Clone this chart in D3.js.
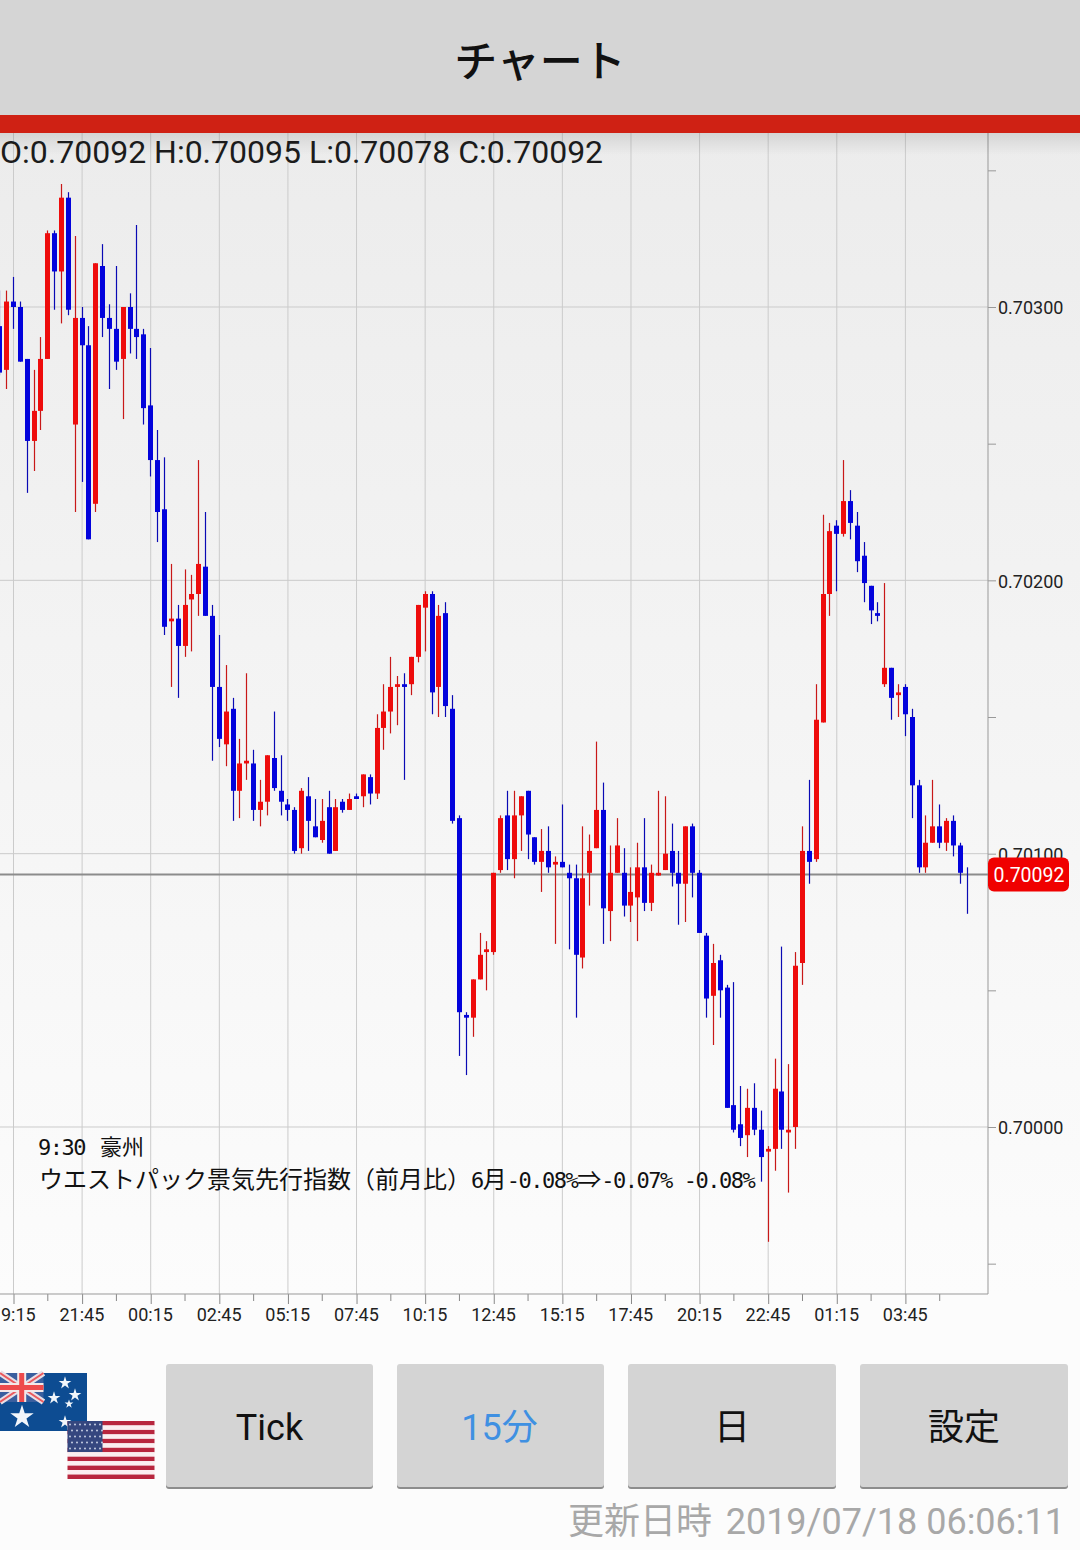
<!DOCTYPE html>
<html>
<head>
<meta charset="utf-8">
<title>チャート</title>
<script src="https://d3js.org/d3.v7.min.js"></script>
<style>
  html, body { margin: 0; padding: 0; background: #fcfcfc; }
  svg { display: block; }
  text { font-family: Roboto, "Noto Sans CJK JP", sans-serif; }
  .jp { font-family: "Noto Sans CJK JP", sans-serif; }
</style>
</head>
<body>
<div id="chart"></div>
<script>
// 15 minute candles, AUD/USD. bar 0 is the 19:15 bar, the first two bars come before it
const firstBar = -2
const opens = [
  0.70293, 0.70277, 0.70302, 0.70300, 0.70281, 0.70251, 0.70262, 0.70281, 0.70327, 0.70313, 0.70340, 0.70257,
  0.70296, 0.70286, 0.70228, 0.70315, 0.70296, 0.70292, 0.70281, 0.70300, 0.70292, 0.70290, 0.70264, 0.70244,
  0.70226, 0.70185, 0.70186, 0.70176, 0.70193, 0.70195, 0.70205, 0.70187, 0.70161, 0.70140, 0.70153, 0.70123,
  0.70133, 0.70133, 0.70116, 0.70119, 0.70135, 0.70123, 0.70118, 0.70116, 0.70102, 0.70121, 0.70110, 0.70105,
  0.70117, 0.70101, 0.70119, 0.70116, 0.70121, 0.70121, 0.70128, 0.70122, 0.70146, 0.70152, 0.70161, 0.70162,
  0.70162, 0.70172, 0.70190, 0.70195, 0.70161, 0.70188, 0.70153, 0.70113, 0.70041, 0.70040, 0.70054, 0.70064,
  0.70064, 0.70094, 0.70114, 0.70098, 0.70114, 0.70123, 0.70106, 0.70097, 0.70101, 0.70096, 0.70097, 0.70093,
  0.70091, 0.70062, 0.70093, 0.70102, 0.70116, 0.70079, 0.70093, 0.70093, 0.70081, 0.70084, 0.70095, 0.70082,
  0.70092, 0.70094, 0.70101, 0.70093, 0.70089, 0.70110, 0.70093, 0.70070, 0.70048, 0.70061, 0.70051, 0.70008,
  0.70001, 0.69997, 0.70007, 0.69999, 0.69991, 0.69992, 0.70013, 0.69998, 0.70000, 0.70060, 0.70101, 0.70098,
  0.70148, 0.70195, 0.70220, 0.70217, 0.70229, 0.70220, 0.70209, 0.70198, 0.70188, 0.70162, 0.70168, 0.70158,
  0.70161, 0.70150, 0.70125, 0.70095, 0.70104, 0.70110, 0.70104, 0.70112, 0.70103, 0.70092
]
const highs = [
  0.70306, 0.70306, 0.70311, 0.70302, 0.70281, 0.70277, 0.70289, 0.70328, 0.70328, 0.70345, 0.70342, 0.70326,
  0.70300, 0.70293, 0.70316, 0.70323, 0.70301, 0.70315, 0.70300, 0.70305, 0.70330, 0.70292, 0.70285, 0.70255,
  0.70245, 0.70206, 0.70191, 0.70204, 0.70202, 0.70244, 0.70225, 0.70191, 0.70180, 0.70169, 0.70157, 0.70142,
  0.70166, 0.70138, 0.70127, 0.70136, 0.70152, 0.70136, 0.70120, 0.70117, 0.70124, 0.70128, 0.70120, 0.70120,
  0.70123, 0.70120, 0.70120, 0.70122, 0.70122, 0.70129, 0.70129, 0.70151, 0.70162, 0.70172, 0.70165, 0.70166,
  0.70172, 0.70191, 0.70196, 0.70196, 0.70191, 0.70192, 0.70158, 0.70114, 0.70042, 0.70054, 0.70071, 0.70068,
  0.70093, 0.70114, 0.70123, 0.70123, 0.70121, 0.70123, 0.70106, 0.70109, 0.70110, 0.70099, 0.70118, 0.70096,
  0.70096, 0.70110, 0.70107, 0.70141, 0.70126, 0.70103, 0.70113, 0.70102, 0.70095, 0.70104, 0.70113, 0.70096,
  0.70123, 0.70121, 0.70111, 0.70101, 0.70110, 0.70111, 0.70094, 0.70071, 0.70067, 0.70063, 0.70052, 0.70053,
  0.70015, 0.70014, 0.70016, 0.70006, 0.69993, 0.70025, 0.70066, 0.70023, 0.70064, 0.70110, 0.70127, 0.70162,
  0.70224, 0.70221, 0.70222, 0.70244, 0.70233, 0.70225, 0.70214, 0.70198, 0.70192, 0.70199, 0.70168, 0.70162,
  0.70162, 0.70153, 0.70127, 0.70114, 0.70127, 0.70118, 0.70113, 0.70114, 0.70104, 0.70095
]
const lows = [
  0.70275, 0.70270, 0.70292, 0.70280, 0.70232, 0.70240, 0.70255, 0.70281, 0.70299, 0.70294, 0.70297, 0.70225,
  0.70236, 0.70215, 0.70225, 0.70289, 0.70270, 0.70277, 0.70259, 0.70283, 0.70281, 0.70257, 0.70238, 0.70214,
  0.70180, 0.70161, 0.70157, 0.70172, 0.70174, 0.70187, 0.70187, 0.70134, 0.70139, 0.70132, 0.70112, 0.70113,
  0.70127, 0.70112, 0.70110, 0.70114, 0.70123, 0.70114, 0.70112, 0.70100, 0.70100, 0.70101, 0.70106, 0.70104,
  0.70100, 0.70101, 0.70115, 0.70116, 0.70120, 0.70117, 0.70118, 0.70120, 0.70138, 0.70144, 0.70147, 0.70127,
  0.70158, 0.70170, 0.70174, 0.70151, 0.70150, 0.70150, 0.70111, 0.70026, 0.70019, 0.70033, 0.70054, 0.70050,
  0.70063, 0.70093, 0.70094, 0.70091, 0.70101, 0.70098, 0.70096, 0.70086, 0.70093, 0.70067, 0.70095, 0.70065,
  0.70040, 0.70058, 0.70081, 0.70102, 0.70067, 0.70068, 0.70093, 0.70077, 0.70075, 0.70068, 0.70079, 0.70079,
  0.70092, 0.70094, 0.70088, 0.70074, 0.70075, 0.70084, 0.70071, 0.70040, 0.70030, 0.70040, 0.70007, 0.69998,
  0.69993, 0.69989, 0.69997, 0.69980, 0.69958, 0.69984, 0.69992, 0.69976, 0.69992, 0.70052, 0.70089, 0.70097,
  0.70148, 0.70187, 0.70196, 0.70216, 0.70215, 0.70203, 0.70192, 0.70184, 0.70185, 0.70161, 0.70149, 0.70150,
  0.70143, 0.70113, 0.70093, 0.70093, 0.70104, 0.70102, 0.70101, 0.70099, 0.70089, 0.70078
]
const closes = [
  0.70276, 0.70302, 0.70300, 0.70280, 0.70251, 0.70262, 0.70281, 0.70327, 0.70313, 0.70340, 0.70299, 0.70296,
  0.70286, 0.70215, 0.70316, 0.70296, 0.70292, 0.70280, 0.70300, 0.70292, 0.70289, 0.70263, 0.70244, 0.70225,
  0.70183, 0.70186, 0.70176, 0.70191, 0.70195, 0.70206, 0.70187, 0.70161, 0.70142, 0.70152, 0.70123, 0.70133,
  0.70134, 0.70116, 0.70119, 0.70136, 0.70124, 0.70119, 0.70116, 0.70101, 0.70123, 0.70112, 0.70106, 0.70112,
  0.70100, 0.70117, 0.70116, 0.70120, 0.70120, 0.70129, 0.70122, 0.70146, 0.70152, 0.70161, 0.70162, 0.70161,
  0.70172, 0.70191, 0.70195, 0.70159, 0.70187, 0.70154, 0.70112, 0.70042, 0.70040, 0.70054, 0.70063, 0.70065,
  0.70093, 0.70113, 0.70098, 0.70114, 0.70121, 0.70107, 0.70097, 0.70101, 0.70095, 0.70097, 0.70095, 0.70091,
  0.70063, 0.70091, 0.70101, 0.70116, 0.70080, 0.70093, 0.70103, 0.70081, 0.70086, 0.70095, 0.70082, 0.70093,
  0.70093, 0.70100, 0.70093, 0.70089, 0.70110, 0.70093, 0.70071, 0.70047, 0.70060, 0.70050, 0.70007, 0.69999,
  0.69996, 0.70007, 0.69999, 0.69989, 0.69992, 0.70014, 0.69999, 0.69999, 0.70059, 0.70101, 0.70097, 0.70149,
  0.70195, 0.70218, 0.70217, 0.70229, 0.70221, 0.70207, 0.70199, 0.70189, 0.70187, 0.70168, 0.70157, 0.70159,
  0.70151, 0.70125, 0.70095, 0.70104, 0.70110, 0.70104, 0.70112, 0.70103, 0.70093, 0.70092
]
const lastPrice = 0.70092

// bottom axis, one label every 10 bars
const timeTicks = [0, 10, 20, 30, 40, 50, 60, 70, 80, 90, 100, 110, 120, 130]
const timeLabels = ['19:15', '21:45', '00:15', '02:45', '05:15', '07:45', '10:15', '12:45', '15:15', '17:45', '20:15', '22:45', '01:15', '03:45']
const minorTimeTicks = [5, 15, 25, 35, 45, 55, 65, 75, 85, 95, 105, 115, 125, 135]
const priceTicks = [0.6995, 0.7000, 0.7005, 0.7010, 0.7015, 0.7020, 0.7025, 0.7030, 0.7035]
const priceLabels = [0.7000, 0.7010, 0.7020, 0.7030]

const buttonLabels = ['Tick', '15分', '日', '設定']
const buttonLefts = [166, 397, 628, 860]
const buttonWidths = [207, 207, 208, 208]

const width = 1080
const height = 1550
const plotTop = 133
const plotBottom = 1294
const plotRight = 988
const barW = 5

const x = d3.scaleLinear().domain([0, 130]).range([13.5, 905.4])
const y = d3.scaleLinear().domain([0.7000, 0.7030]).range([1127, 307])

const svg = d3.select('#chart').append('svg')
  .attr('width', width)
  .attr('height', height)

const defs = svg.append('defs')
const bgGrad = defs.append('linearGradient')
  .attr('id', 'bgGrad').attr('x1', 0).attr('x2', 0).attr('y1', 0).attr('y2', 1)
bgGrad.append('stop').attr('offset', '0%').attr('stop-color', '#ececec')
bgGrad.append('stop').attr('offset', '100%').attr('stop-color', '#fcfcfc')
const shadowGrad = defs.append('linearGradient')
  .attr('id', 'shadowGrad').attr('x1', 0).attr('x2', 0).attr('y1', 0).attr('y2', 1)
shadowGrad.append('stop').attr('offset', '0%').attr('stop-color', '#000').attr('stop-opacity', 0.1)
shadowGrad.append('stop').attr('offset', '100%').attr('stop-color', '#000').attr('stop-opacity', 0)

svg.append('rect')
  .attr('x', 0).attr('y', plotTop)
  .attr('width', width).attr('height', plotBottom - plotTop)
  .attr('fill', 'url(#bgGrad)')

// Grid
svg.append('g').selectAll('line')
  .data(timeTicks)
  .enter().append('line')
  .attr('x1', d => x(d)).attr('x2', d => x(d))
  .attr('y1', plotTop).attr('y2', plotBottom)
  .attr('stroke', '#cbcbcb')
  .attr('stroke-width', 1)

svg.append('g').selectAll('line')
  .data(priceLabels)
  .enter().append('line')
  .attr('x1', 0).attr('x2', plotRight)
  .attr('y1', d => y(d)).attr('y2', d => y(d))
  .attr('stroke', '#cbcbcb')
  .attr('stroke-width', 1)

// Axes
const xAxis = d3.axisBottom(x)
  .tickValues(timeTicks)
  .tickSize(10)
  .tickPadding(4)
  .tickFormat((d, i) => timeLabels[i])
const xAxisG = svg.append('g')
  .attr('transform', 'translate(0,' + plotBottom + ')')
  .call(xAxis)
xAxisG.select('.domain').remove()
xAxisG.selectAll('.tick line').attr('stroke', '#888')
xAxisG.selectAll('.tick text')
  .attr('fill', '#222')
  .attr('dx', -0.7)
  .style('font-size', '18px')
  .style('font-family', 'Roboto')

svg.append('g').selectAll('line')
  .data(minorTimeTicks)
  .enter().append('line')
  .attr('x1', d => x(d)).attr('x2', d => x(d))
  .attr('y1', plotBottom).attr('y2', plotBottom + 7)
  .attr('stroke', '#888')

svg.append('line')
  .attr('x1', 0).attr('x2', plotRight)
  .attr('y1', plotBottom).attr('y2', plotBottom)
  .attr('stroke', '#999')

const yAxis = d3.axisRight(y)
  .tickValues(priceTicks)
  .tickSize(8)
  .tickPadding(2)
  .tickFormat(d => priceLabels.includes(d) ? d3.format('.5f')(d) : '')
const yAxisG = svg.append('g')
  .attr('transform', 'translate(' + plotRight + ',0)')
  .call(yAxis)
yAxisG.select('.domain').remove()
yAxisG.selectAll('.tick line').attr('stroke', '#999')
yAxisG.selectAll('.tick text')
  .attr('fill', '#222')
  .attr('dy', '0.38em')
  .style('font-size', '18px')
  .style('font-family', 'Roboto')

svg.append('line')
  .attr('x1', plotRight).attr('x2', plotRight)
  .attr('y1', plotTop).attr('y2', plotBottom)
  .attr('stroke', '#999')

// Last price line, under the candles' last wick
svg.append('line')
  .attr('x1', 0).attr('x2', plotRight)
  .attr('y1', y(lastPrice) - 1).attr('y2', y(lastPrice) - 1)
  .attr('stroke', '#8c8c8c')
  .attr('stroke-width', 2)

// Candles
const candleData = opens.map((o, i) => ({
  bar: firstBar + i, o: o, h: highs[i], l: lows[i], c: closes[i]
}))
const candleColor = d => d.c > d.o ? '#ee0c0c' : '#0303dc'
const candle = svg.append('g').selectAll('g')
  .data(candleData)
  .enter().append('g')

candle.append('line')
  .attr('x1', d => Math.floor(x(d.bar)) + 0.5)
  .attr('x2', d => Math.floor(x(d.bar)) + 0.5)
  .attr('y1', d => y(d.h))
  .attr('y2', d => y(d.l))
  .attr('stroke', d => d.c > d.o ? '#c81818' : '#0a0ab4')
  .attr('stroke-width', 1.2)

candle.filter(d => d.c !== d.o).append('rect')
  .attr('x', d => Math.floor(x(d.bar)) + 0.5 - barW / 2)
  .attr('y', d => y(Math.max(d.o, d.c)))
  .attr('width', barW)
  .attr('height', d => Math.abs(y(d.o) - y(d.c)))
  .attr('fill', candleColor)

// Last price tag
svg.append('rect')
  .attr('x', plotRight).attr('y', y(lastPrice) - 18)
  .attr('width', 81).attr('height', 34)
  .attr('rx', 6)
  .attr('fill', '#f00000')
svg.append('text')
  .attr('x', plotRight + 41).attr('y', y(lastPrice) + 6)
  .attr('text-anchor', 'middle')
  .attr('fill', '#fff')
  .style('font-size', '19.5px')
  .text(d3.format('.5f')(lastPrice))

// Economic calendar note, half width runs in a tightened mono face
const monoRun = (sel, txt) => sel.append('tspan')
  .style('font-family', '"DejaVu Sans Mono"')
  .style('font-size', '22px')
  .style('letter-spacing', '-1.5px')
  .text(txt)
const jpRun = (sel, txt, size) => sel.append('tspan')
  .style('font-family', '"Noto Sans CJK JP"')
  .style('font-size', size + 'px')
  .text(txt)

const note = svg.append('g').attr('fill', '#111')
const noteTop = note.append('text').attr('x', 38).attr('y', 1155)
monoRun(noteTop, '9:30')
jpRun(noteTop, '豪州', 22).attr('dx', 15)

const noteMain = note.append('text').attr('x', 39).attr('y', 1188)
jpRun(noteMain, 'ウエストパック景気先行指数（前月比）', 24)
monoRun(noteMain, '6')
jpRun(noteMain, '月', 24)
monoRun(noteMain, '-0.08%')
jpRun(noteMain, '⇒', 24)
monoRun(noteMain, '-0.07%')
monoRun(noteMain, '-0.08%').attr('dx', 12)

// OHLC read out
svg.append('text')
  .attr('x', 0).attr('y', 163)
  .attr('fill', '#1c1c1c')
  .style('font-size', '32px')
  .text('O:0.70092 H:0.70095 L:0.70078 C:0.70092')

// Title bar
svg.append('rect').attr('x', 0).attr('y', 133).attr('width', width).attr('height', 22).attr('fill', 'url(#shadowGrad)')
svg.append('rect').attr('x', 0).attr('y', 0).attr('width', width).attr('height', 115).attr('fill', '#d5d5d5')
svg.append('rect').attr('x', 0).attr('y', 115).attr('width', width).attr('height', 18).attr('fill', '#cf2114')
svg.append('text')
  .attr('class', 'jp')
  .attr('x', 540).attr('y', 77)
  .attr('text-anchor', 'middle')
  .attr('fill', '#111')
  .style('font-size', '43px')
  .style('font-weight', 500)
  .text('チャート')

// Flags
const au = svg.append('g')
au.append('rect').attr('x', 0).attr('y', 1373).attr('width', 87).attr('height', 58).attr('fill', '#0d4c92')
au.append('rect').attr('x', 0).attr('y', 1373).attr('width', 43.5).attr('height', 29).attr('fill', '#3a5f9f')
au.append('path').attr('d', 'M0 1373L43.5 1402M43.5 1373L0 1402').attr('stroke', '#e8dfe6').attr('stroke-width', 6)
au.append('path').attr('d', 'M0 1373L43.5 1402M43.5 1373L0 1402').attr('stroke', '#ea5a5e').attr('stroke-width', 2)
au.append('path').attr('d', 'M21.7 1373V1402M0 1387.5H43.5').attr('stroke', '#f3e8e8').attr('stroke-width', 9)
au.append('path').attr('d', 'M21.7 1373V1402M0 1387.5H43.5').attr('stroke', '#ee4a4c').attr('stroke-width', 5)
const auStars = [[65, 1383, 50], [75, 1395, 50], [54, 1398, 50], [69, 1404, 24], [65, 1422, 50], [22, 1417, 170]]
au.selectAll('path.star')
  .data(auStars)
  .enter().append('path')
  .attr('class', 'star')
  .attr('transform', d => 'translate(' + d[0] + ',' + d[1] + ')')
  .attr('d', d => d3.symbol().type(d3.symbolStar).size(d[2])())
  .attr('fill', '#f2f6fb')

const us = svg.append('g')
us.selectAll('rect.stripe')
  .data(d3.range(13))
  .enter().append('rect')
  .attr('class', 'stripe')
  .attr('x', 67.5).attr('y', i => 1421 + i * 58 / 13)
  .attr('width', 87).attr('height', 58 / 13)
  .attr('fill', i => i % 2 === 0 ? '#b8263e' : '#fbeef0')
us.append('rect').attr('x', 67.5).attr('y', 1421).attr('width', 35).attr('height', 31).attr('fill', '#35477f')
d3.range(5).forEach(r => {
  us.selectAll('circle.r' + r)
    .data(d3.range(7))
    .enter().append('circle')
    .attr('class', 'r' + r)
    .attr('cx', c => 70 + c * 5 + (r % 2) * 2)
    .attr('cy', 1424.5 + r * 6)
    .attr('r', 1)
    .attr('fill', '#c5cde2')
})

// Buttons
const button = svg.append('g').selectAll('g')
  .data(buttonLabels)
  .enter().append('g')
button.append('rect')
  .attr('x', (d, i) => buttonLefts[i])
  .attr('y', 1366)
  .attr('width', (d, i) => buttonWidths[i])
  .attr('height', 123)
  .attr('rx', 3)
  .attr('fill', '#8d8d8d')
button.append('rect')
  .attr('x', (d, i) => buttonLefts[i])
  .attr('y', 1364)
  .attr('width', (d, i) => buttonWidths[i])
  .attr('height', 123)
  .attr('rx', 3)
  .attr('fill', '#d4d4d4')
button.append('text')
  .attr('x', (d, i) => buttonLefts[i] + buttonWidths[i] / 2 - (d === '15分' ? 1 : 0))
  .attr('y', 1440)
  .attr('text-anchor', 'middle')
  .attr('fill', d => d === '15分' ? '#3f90e2' : '#111')
  .style('font-size', '36px')
  .style('font-family', 'Roboto, "Noto Sans CJK JP"')
  .text(d => d)

// Footer
svg.append('text')
  .attr('x', 712).attr('y', 1534)
  .attr('text-anchor', 'end')
  .attr('fill', '#a8a8a8')
  .style('font-size', '36px')
  .style('font-family', '"Noto Sans CJK JP"')
  .text('更新日時')
svg.append('text')
  .attr('x', 1065).attr('y', 1534)
  .attr('text-anchor', 'end')
  .attr('fill', '#a8a8a8')
  .style('font-size', '36px')
  .style('font-family', 'Roboto')
  .text('2019/07/18 06:06:11')
</script>
</body>
</html>
